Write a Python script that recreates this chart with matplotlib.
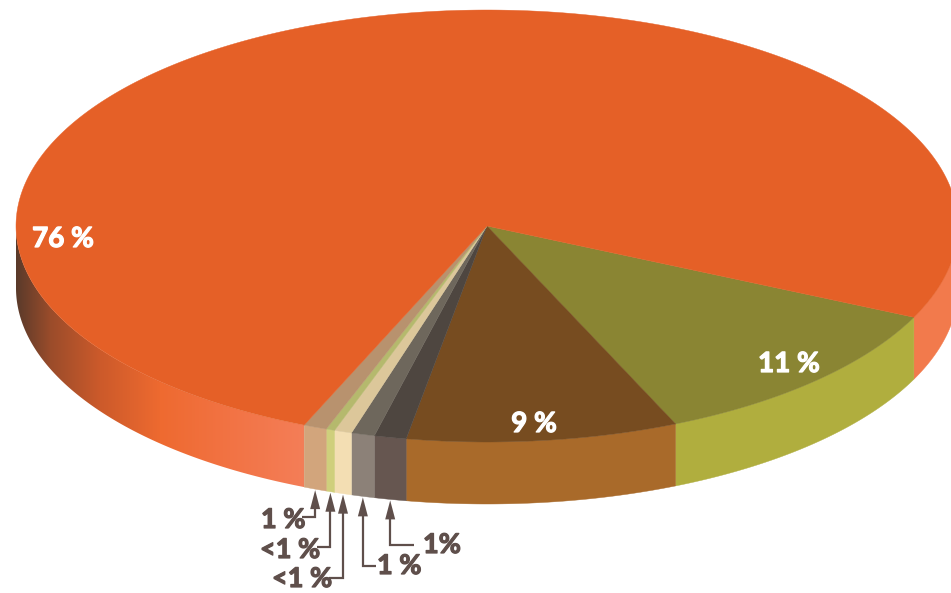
import numpy as np
import matplotlib
matplotlib.use("Agg")
import matplotlib.pyplot as plt
import matplotlib.patheffects as pe
from matplotlib.patches import Polygon

# slices clockwise starting from the olive one
values = [11.5, 9.3, 1.1, 0.8, 0.6, 0.3, 0.8, 75.6]
top_colors = ["#8a8533", "#774c20", "#4e4640", "#6e675c", "#dcc79a", "#b5b96d", "#b8926e", "#e56027"]
side_colors = ["#b0ae3e", "#a96a2a", "#665650", "#8c8178", "#f3deb3", "#cfcf7c", "#d2a57c", "#f27a4c"]
small_labels = ["1%", "1 %", "<1 %", "<1 %", "1 %"]

# pie geometry in pixels
cx, cy = 487, 226
a, b = 471, 216
depth = 62
start = 25.0

# orange rim gets darker toward the left
orange_x = [16, 50, 100, 160, 230, 305]
orange_c = np.array([[90, 58, 42], [154, 76, 43], [204, 90, 42], [238, 106, 48], [242, 115, 68], [244, 126, 88]]) / 255


def rim(t):
    return cx + a * np.cos(np.radians(t)), cy + b * np.sin(np.radians(t))


def wall(t0, t1):
    # outline of the visible wall between two angles
    ts = np.linspace(t0, t1, 200)
    xs, ys = rim(ts)
    return np.r_[xs, xs[::-1]], np.r_[ys, ys[::-1] + depth]


fig = plt.figure(figsize=(9.51, 5.93), dpi=100)
ax = fig.add_axes([0, 0, 1, 1])

angles = start + np.concatenate([[0], np.cumsum(values)]) * 360 / sum(values)

# orange wall, right end is plain, left end has the gradient
xs, ys = wall(0, angles[0])
ax.fill(xs, ys, color=side_colors[-1], lw=0.3, zorder=1)
xs, ys = wall(angles[-2], 180)
grad_x = np.arange(14, 325)
grad = np.stack([np.interp(grad_x, orange_x, orange_c[:, k]) for k in range(3)], axis=1)[np.newaxis]
im = ax.imshow(grad, extent=[14, 325, 600, 200], aspect="auto", zorder=1, interpolation="bilinear")
clip = Polygon(np.c_[xs, ys], closed=True, transform=ax.transData, fc="none", ec="none")
ax.add_patch(clip)
im.set_clip_path(clip)

# side wall of the other slices
for i in range(len(values) - 1):
    xs, ys = wall(angles[i], angles[i + 1])
    ax.fill(xs, ys, color=side_colors[i], lw=0.3, zorder=1.5)

# top surface
for i in range(len(values)):
    ts = np.linspace(angles[i], angles[i + 1], 400)
    xs, ys = rim(ts)
    ax.fill(np.r_[cx, xs], np.r_[cy, ys], color=top_colors[i], lw=0.3, zorder=2)

ax.set_xlim(0, 951)
ax.set_ylim(593, 0)
ax.axis("off")

# Lato bold is a bit thin next to the original, thicken with a stroke
font = {"family": "Lato", "weight": "bold"}
white_fx = [pe.withStroke(linewidth=0.9, foreground="white")]
dark_fx = [pe.withStroke(linewidth=0.9, foreground="#5f4f4b")]
ax.text(63, 247, "76 %", color="white", ha="center", va="baseline", zorder=3, fontsize=20, path_effects=white_fx, **font)
ax.text(789, 372, "11 %", color="white", ha="center", va="baseline", zorder=3, fontsize=20, path_effects=white_fx, **font)
ax.text(534, 432, "9 %", color="white", ha="center", va="baseline", zorder=3, fontsize=20, path_effects=white_fx, **font)

# small slice callouts: elbow depth, elbow end, text x, text baseline
arrow_col = "#5f4f4b"
layout = [(545, 414, 423, 553), (566, 376, 377, 574), (578, 329, 272, 587), (547, 317, 260, 558), (517, 302, 261, 528)]
for i, (lab, (ey, ex, tx, ty)) in enumerate(zip(small_labels, layout)):
    mid = (angles[i + 2] + angles[i + 3]) / 2
    x, y = rim(mid)
    tip = y + depth + 1
    ax.plot([x, x, ex], [tip + 12, ey, ey], color=arrow_col, lw=1.6, solid_joinstyle="miter", solid_capstyle="butt", zorder=3)
    ax.fill([x, x - 5, x + 5], [tip, tip + 19, tip + 19], color=arrow_col, lw=0, zorder=3)
    ax.text(tx, ty, lab, color=arrow_col, ha="left", va="baseline", fontsize=19.5, path_effects=dark_fx, **font)

fig.savefig("out.png", dpi=100)
